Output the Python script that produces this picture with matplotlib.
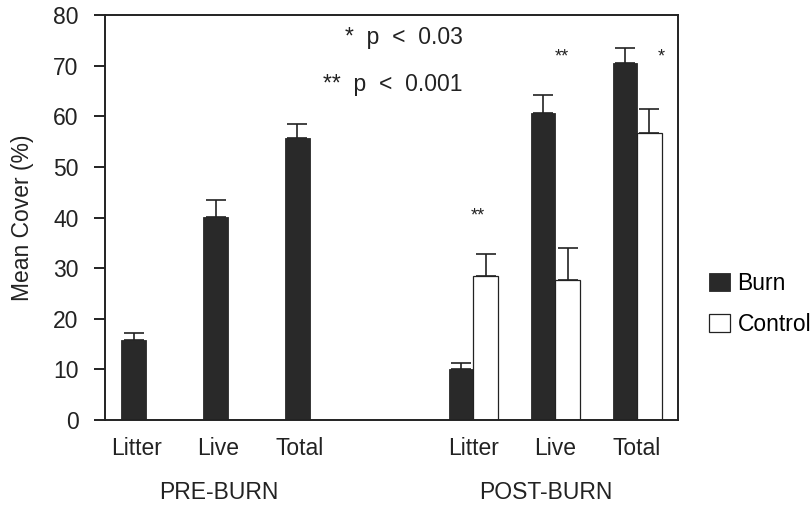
import numpy as np
import matplotlib
matplotlib.use('Agg')
import matplotlib.pyplot as plt

plt.rcParams['font.family'] = ['Liberation Sans', 'DejaVu Sans']

# Categories and groups
parts = ['Litter', 'Live', 'Total']
groups = ['PRE-BURN', 'POST-BURN']

# Mean cover (%) and upward standard errors, pre-burn then post-burn
burn_mean = [15.8, 40.1, 55.7, 10.0, 60.6, 70.5]
burn_se = [1.4, 3.4, 2.8, 1.3, 3.6, 3.0]
control_mean = [0, 0, 0, 28.4, 27.6, 56.7]
control_se = [0, 0, 0, 4.4, 6.4, 4.7]

# Significance marks above post-burn pairs
sig_marks = ['**', '**', '*']
sig_heights = [40.3, 71.7, 71.7]

# Bar positions: three per group with one empty slot between groups
pos = np.array([0, 1, 2, 4, 5, 6])
w = 0.3
dark = '#292929'

fig = plt.figure(figsize=(8.12, 5.05), dpi=100)
ax = fig.add_axes([0.1293, 0.1683, 0.7057, 0.802])

ax.bar(pos - w / 2, burn_mean, w, color=dark, edgecolor=dark, linewidth=0.6,
       label='Burn', zorder=2)
ax.bar(pos + w / 2, control_mean, w, color='white', edgecolor='#222222',
       linewidth=0.9, label='Control', zorder=2)

ax.errorbar(pos - w / 2, burn_mean, yerr=[np.zeros(6), burn_se], fmt='none',
            ecolor='#222222', elinewidth=1.2, capsize=7, capthick=1.2, zorder=3)
cm = np.array(control_mean)
has_err = cm > 0
ax.errorbar((pos + w / 2)[has_err], cm[has_err],
            yerr=[np.zeros(has_err.sum()), np.array(control_se)[has_err]],
            fmt='none', ecolor='#222222', elinewidth=1.2, capsize=7,
            capthick=1.2, zorder=3)

fs = 16.5
ax.set_xlim(-0.5, 6.5)
ax.set_ylim(0, 80)
ax.set_yticks(range(0, 81, 10))
ax.tick_params(axis='y', direction='out', length=8, width=1.4, pad=11,
               labelsize=fs, colors='#222222')

# tick labels: pre-burn labels sit a little left of the pair centre
label_pos = list(pos[:3] - 0.12) + list(pos[3:])
ax.set_xticks(label_pos)
ax.set_xticklabels(parts * 2)
ax.tick_params(axis='x', length=0, pad=12, labelsize=fs, colors='#222222')

for s in ax.spines.values():
    s.set_linewidth(1.4)
    s.set_color('#222222')

ax.set_ylabel('Mean Cover (%)', fontsize=fs, color='#222222', labelpad=14)

# group labels under tick labels
for g, centre in zip(groups, [pos[:3].mean() - 0.11, pos[3:].mean() - 0.11]):
    ax.text(centre, -0.178, g, transform=ax.get_xaxis_transform(),
            ha='center', va='center', fontsize=fs, color='#222222')

# p-value key
ax.text(3.87, 75.5, '*  p  <  0.03', ha='right', va='center', fontsize=fs,
        color='#222222')
ax.text(3.87, 66.3, '**  p  <  0.001', ha='right', va='center', fontsize=fs,
        color='#222222')

# significance stars
for x, m, h in zip(pos[3:] + np.array([0.05, 0.08, 0.3]), sig_marks, sig_heights):
    ax.text(x, h, m, ha='center', va='center', fontsize=13, color='#222222')

ax.legend(loc='center left', bbox_to_anchor=(1.054, 0.286), frameon=False,
          fontsize=fs, handlelength=0.9, handleheight=0.85, handletextpad=0.35,
          labelspacing=0.78, borderpad=0, borderaxespad=0)

fig.savefig('out.png', dpi=100)
